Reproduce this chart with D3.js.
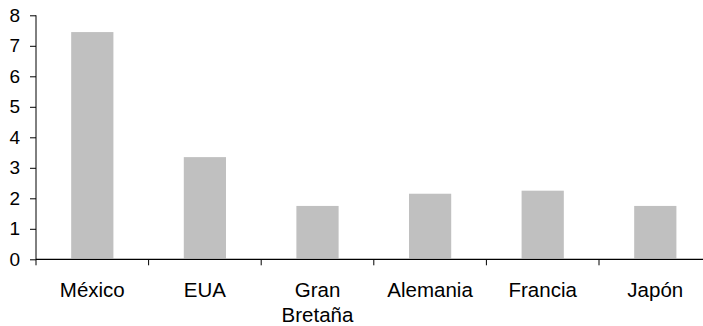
<!DOCTYPE html>
<html>
<head>
<meta charset="utf-8">
<script src="https://cdn.jsdelivr.net/npm/d3@7"></script>
<style>
  html, body { margin: 0; padding: 0; background: #fff; }
  svg { display: block; }
  text { font-family: "Liberation Sans", Arial, Helvetica, sans-serif; fill: #000; }
</style>
</head>
<body>
<svg id="chart" width="703" height="326"></svg>
<script>
// Country labels (multi-line labels split on "\n") and their values
const categories = ["México", "EUA", "Gran\nBretaña", "Alemania", "Francia", "Japón"];
const values = [7.45, 3.35, 1.75, 2.15, 2.25, 1.75];
const yTicks = [0, 1, 2, 3, 4, 5, 6, 7, 8];

(function () {
  const svg = d3.select("#chart");
  const plotLeft = 36, plotRight = 711.6, plotTop = 15.3, plotBottom = 259.3;

  const x = d3.scaleBand().domain(categories).range([plotLeft, plotRight]).padding(0);
  const y = d3.scaleLinear().domain([0, 8]).range([plotBottom, plotTop]);

  // Bars
  const barW = x.bandwidth() * 0.375;
  svg.append("g").selectAll("rect")
    .data(categories)
    .join("rect")
    .attr("x", d => x(d) + (x.bandwidth() - barW) / 2)
    .attr("y", (d, i) => y(values[i]))
    .attr("width", barW)
    .attr("height", (d, i) => y(0) - y(values[i]) - 1)
    .attr("fill", "#c0c0c0");

  // Y axis
  const yAxis = svg.append("g")
    .attr("transform", `translate(${plotLeft},0)`)
    .call(d3.axisLeft(y).tickValues(yTicks).tickSize(6).tickPadding(10).tickFormat(d3.format("d")));
  yAxis.select(".domain").attr("d", `M0,${plotTop}V${plotBottom}`).attr("stroke", "#000");
  yAxis.selectAll("text").attr("font-size", 19).attr("font-family", "Liberation Sans, Arial, sans-serif");

  // X axis: ticks sit on the category boundaries
  const boundaries = categories.map(c => x(c)).concat([plotRight]);
  const xAxisG = svg.append("g").attr("transform", `translate(0,${plotBottom})`);
  xAxisG.append("line").attr("x1", plotLeft).attr("x2", 703).attr("y1", 0).attr("y2", 0)
    .attr("stroke", "#000").attr("stroke-width", 1.2);
  xAxisG.selectAll("line.tick").data(boundaries).join("line")
    .attr("class", "tick")
    .attr("x1", d => d).attr("x2", d => d)
    .attr("y1", 0).attr("y2", 6)
    .attr("stroke", "#000");

  // Category labels
  const labels = svg.append("g").selectAll("text")
    .data(categories)
    .join("text")
    .attr("x", d => x(d) + x.bandwidth() / 2)
    .attr("y", 297)
    .attr("text-anchor", "middle")
    .attr("font-size", 20.5);
  labels.each(function (d) {
    const t = d3.select(this);
    d.split("\n").forEach((line, i) => {
      t.append("tspan").attr("x", x(d) + x.bandwidth() / 2).attr("dy", i === 0 ? 0 : 25).text(line);
    });
  });
})();
</script>
</body>
</html>
